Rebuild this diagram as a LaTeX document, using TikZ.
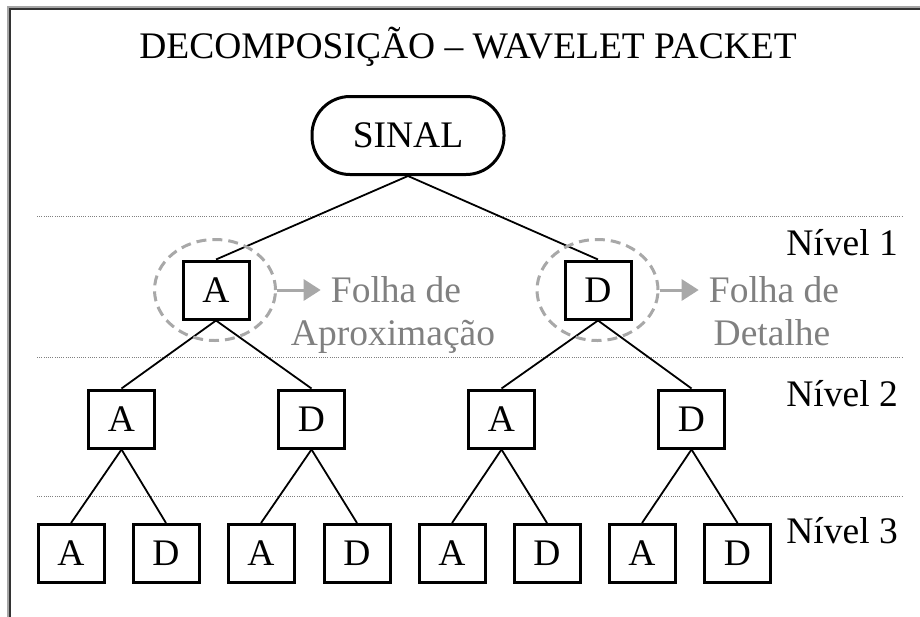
\documentclass[tikz,border=0pt]{standalone}
\usepackage{fontspec}
\setmainfont{Liberation Serif}
\usetikzlibrary{arrows.meta,shapes.geometric}
\definecolor{halogray}{HTML}{A8A8A8}
\definecolor{notegray}{HTML}{808080}
\begin{document}
\begin{tikzpicture}[x=1pt,y=-1pt,
  every node/.style={font=\fontsize{37.5}{40}\selectfont},
  leaf/.style={draw, line width=3pt, minimum width=66pt, minimum height=58pt, inner sep=0pt},
  sinal/.style={draw, line width=3pt, rounded corners=38pt, minimum width=192pt, minimum height=78pt},
  edge/.style={line width=1.8pt},
  halo/.style={ellipse, draw=halogray, line width=3pt, dash pattern=on 10pt off 6pt,
    minimum width=121pt, minimum height=101pt, inner sep=0pt},
  pointer/.style={draw=halogray, line width=3pt, -{Triangle[length=17pt,width=21pt]}, shorten >=10pt},
  note/.style={text=notegray, inner sep=0pt, anchor=base},
  levelname/.style={inner sep=0pt, anchor=base east},
  separator/.style={gray, line width=1pt, dash pattern=on 1pt off 1.2pt}
]
\useasboundingbox (0,0) rectangle (920,616);
\clip (0,0) rectangle (920,616);

% outer frame with a soft shadow
\draw[black!35, line width=4pt] (9,640) -- (9,8) -- (940,8);
\draw[black!80, line width=2pt] (10,640) -- (10,9) -- (940,9);

% title
\node[inner sep=0pt, anchor=base] (title) at (468,58.5) {DECOMPOSIÇÃO – WAVELET PACKET};

% level separators
\draw[separator] (37,216) -- (902,216);
\draw[separator] (37,357) -- (902,357);
\draw[separator] (37,496) -- (902,496);

% level names
\node[levelname] (n1) at (898,255) {Nível 1};
\node[levelname] (n2) at (898,406) {Nível 2};
\node[levelname] (n3) at (898,543) {Nível 3};

% root
\node[sinal] (s) at (408,135.5) {SINAL};

% level 1
\node[leaf] (a) at (216,290) {A};
\node[leaf] (d) at (598,290) {D};

% level 2
\node[leaf] (aa) at (121.5,419) {A};
\node[leaf] (ad) at (311.5,419) {D};
\node[leaf] (da) at (501.5,419) {A};
\node[leaf] (dd) at (691.5,419) {D};

% level 3
\node[leaf] (aaa) at (71,553.5) {A};
\node[leaf] (aad) at (166,553.5) {D};
\node[leaf] (ada) at (261,553.5) {A};
\node[leaf] (add) at (357,553.5) {D};
\node[leaf] (daa) at (452,553.5) {A};
\node[leaf] (dad) at (547,553.5) {D};
\node[leaf] (dda) at (642,553.5) {A};
\node[leaf] (ddd) at (737.5,553.5) {D};

% tree connectors
\draw[edge] (s.south) -- (a.north);
\draw[edge] (s.south) -- (d.north);
\draw[edge] (a.south) -- (aa.north);
\draw[edge] (a.south) -- (ad.north);
\draw[edge] (d.south) -- (da.north);
\draw[edge] (d.south) -- (dd.north);
\draw[edge] (aa.south) -- (aaa.north);
\draw[edge] (aa.south) -- (aad.north);
\draw[edge] (ad.south) -- (ada.north);
\draw[edge] (ad.south) -- (add.north);
\draw[edge] (da.south) -- (daa.north);
\draw[edge] (da.south) -- (dad.north);
\draw[edge] (dd.south) -- (dda.north);
\draw[edge] (dd.south) -- (ddd.north);

% highlighted leaves with their notes
\node[halo] (ha) at (215,290) {};
\node[halo] (hd) at (597.5,290) {};
\node[note] (fa1) at (396,302) {Folha de};
\node[note] (fa2) at (393,345) {Aproximação};
\node[note] (fd1) at (774,302) {Folha de};
\node[note] (fd2) at (772,345) {Detalhe};
\draw[pointer] (ha.east) -- (ha.east -| fa1.west);
\draw[pointer] (hd.east) -- (hd.east -| fd1.west);
\end{tikzpicture}
\end{document}
